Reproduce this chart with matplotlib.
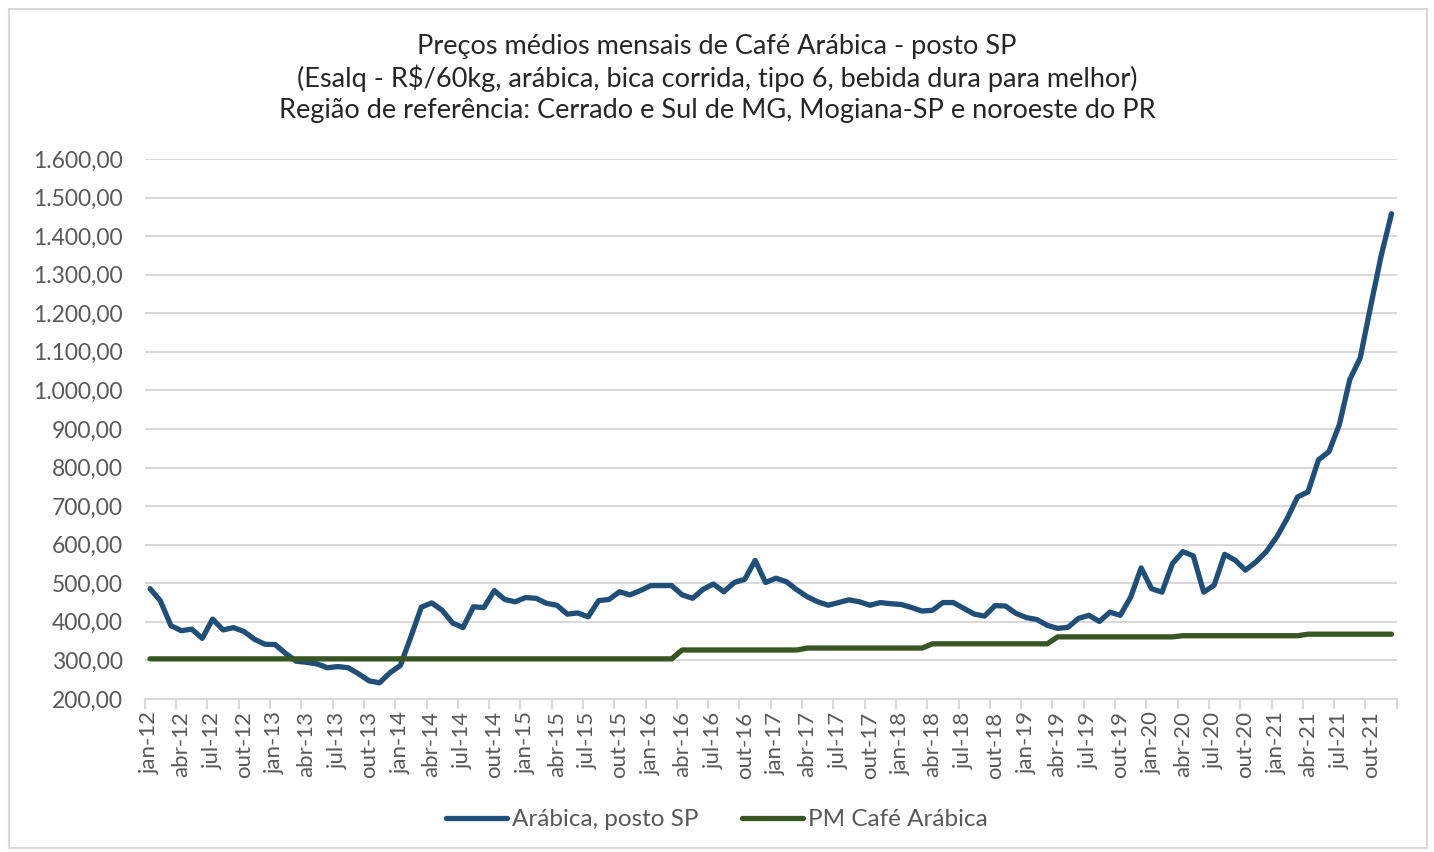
import numpy as np
import matplotlib
matplotlib.use("Agg")
import matplotlib.pyplot as plt
from matplotlib.ticker import FuncFormatter, FixedLocator
from matplotlib.patches import Rectangle

plt.rcParams['font.family'] = ['Lato', 'DejaVu Sans']

# monthly labels jan-12 .. dez-21
meses = ['jan', 'fev', 'mar', 'abr', 'mai', 'jun', 'jul', 'ago', 'set', 'out', 'nov', 'dez']
anos = list(range(12, 22))
labels = [f"{m}-{a}" for a in anos for m in meses]

# Arábica, posto SP (R$/60kg)
arabica = [
    486, 454, 390, 377, 381, 357, 407, 379, 385, 375, 355, 342,   # 2012
    341, 318, 298, 295, 291, 281, 284, 281, 265, 247, 242, 268,   # 2013
    287, 361, 438, 449, 430, 397, 385, 439, 437, 481, 458, 452,   # 2014
    463, 461, 448, 443, 420, 423, 413, 455, 458, 478, 470, 481,   # 2015
    494, 494, 494, 470, 461, 484, 498, 478, 502, 510, 559, 502,   # 2016
    513, 504, 483, 465, 452, 443, 450, 457, 452, 443, 450, 447,   # 2017
    445, 437, 428, 430, 450, 450, 435, 420, 415, 442, 441, 422,   # 2018
    411, 406, 391, 383, 386, 409, 417, 401, 425, 417, 464, 540,   # 2019
    486, 477, 551, 582, 571, 477, 495, 575, 560, 534, 555, 582,   # 2020
    620, 668, 724, 737, 820, 841, 911, 1028, 1084, 1218, 1348, 1458,  # 2021
]

# preço mínimo (PM) café arábica
pm = ([304] * 51 + [327] * 12 + [332] * 12 + [343] * 12
      + [361] * 12 + [364] * 12 + [368] * 9)

x = np.arange(len(labels))

fig = plt.figure(figsize=(14.34, 8.52), dpi=100)
ax = fig.add_axes([0.101, 0.1796, 0.873, 0.6338])

ax.plot(x, arabica, color='#1F4E79', lw=3.8, solid_capstyle='round',
        label='Arábica, posto SP')
ax.plot(x, pm, color='#375623', lw=3.8, solid_capstyle='round',
        label='PM Café Arábica')

ax.set_xlim(-0.5, len(labels) - 0.5)
ax.set_ylim(200, 1600)
ax.set_yticks(np.arange(200, 1601, 100))


def fmt_br(v, pos):
    s = f"{v:,.2f}"
    return s.replace(',', 'X').replace('.', ',').replace('X', '.')


ax.yaxis.set_major_formatter(FuncFormatter(fmt_br))
ax.grid(axis='y', color='#d9d9d9', lw=1.5)
ax.set_axisbelow(True)

ax.xaxis.set_major_locator(FixedLocator(x[::3]))
ax.set_xticklabels(labels[::3], rotation=90)
ax.xaxis.set_minor_locator(FixedLocator(np.arange(-0.5, len(labels), 3)))
ax.tick_params(axis='x', which='major', length=0, pad=9, labelsize=16,
               labelcolor='#595959')
ax.tick_params(axis='x', which='minor', length=7, width=1.5, color='#d9d9d9')
ax.tick_params(axis='y', length=0, pad=16, labelsize=16.5, labelcolor='#595959')

for s in ['top', 'right', 'left']:
    ax.spines[s].set_visible(False)
ax.spines['bottom'].set_color('#d9d9d9')
ax.spines['bottom'].set_linewidth(1.5)

titulo = ["Preços médios mensais de Café Arábica - posto SP",
          "(Esalq - R$/60kg, arábica, bica corrida, tipo 6, bebida dura para melhor)",
          "Região de referência: Cerrado e Sul de MG, Mogiana-SP e noroeste do PR"]
for i, t in enumerate(titulo):
    fig.text(0.5, 0.946 - i * 0.038, t, ha='center', va='center',
             fontsize=19.5, color='#262626')

fig.legend(loc='center', bbox_to_anchor=(0.5, 0.038), ncol=2, frameon=False,
           fontsize=17.5, labelcolor='#595959', handlelength=2.5,
           handletextpad=0.2, columnspacing=1.8)

fig.patches.append(Rectangle((0.006, 0.005), 0.989, 0.985, transform=fig.transFigure,
                             fill=False, edgecolor='#d9d9d9', lw=1.5))

fig.savefig('out.png', dpi=100)
